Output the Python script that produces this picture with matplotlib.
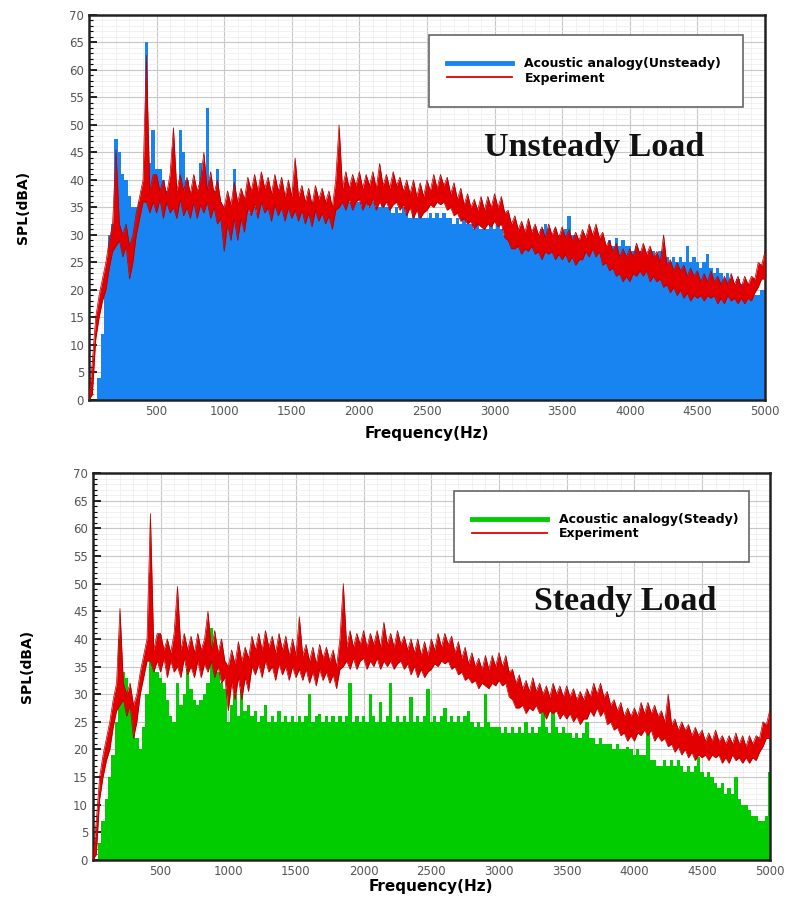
import numpy as np
import matplotlib
matplotlib.use("Agg")
import matplotlib.pyplot as plt
from matplotlib.lines import Line2D
from matplotlib.patches import Rectangle
from matplotlib.ticker import MultipleLocator

# =========================
# DATOS (paso 25 Hz)
# =========================

frecuencia = np.arange(0, 5001, 25)

# experimento: borde superior e inferior de la banda roja (igual en ambos paneles)
experimento_alto = [
    0, 7, 15, 19, 22, 25, 29, 32, 45.5, 32, 30, 32, 28, 30, 34, 37, 40, 62.7, 38, 41,
    41, 38, 40, 37.5, 41, 49.5, 38, 41, 38, 40.5, 37.5, 41, 38, 40, 45, 38, 41.5, 37.5, 40, 36,
    35, 38, 35.5, 39.5, 36, 38.5, 36.5, 40.5, 38, 41, 38, 41.5, 38.5, 40.5, 37.5, 41, 38, 40.5, 37, 40,
    37, 44, 37, 39, 36, 38.5, 35.5, 39, 36.5, 38.5, 36, 38, 35, 40, 50, 38.5, 41.5, 38.5, 41, 39,
    41.5, 38.5, 41, 39, 41.5, 38.5, 43, 39, 41, 38.5, 41.5, 39, 40.5, 38, 40, 37.5, 40, 37, 39.5, 37,
    40, 38, 41, 38.5, 41, 39, 40.5, 37.5, 39.5, 36.5, 38.5, 35.5, 37.5, 35, 36.5, 34.5, 37, 34.5, 37, 35,
    37.5, 35, 37, 34, 34.5, 32, 33.5, 31, 32.5, 30.5, 33, 30.5, 32, 30, 31.5, 29.5, 32, 30, 31.5, 29.5,
    31.5, 29.5, 31, 29, 30.5, 29, 31, 29.5, 32, 30, 32, 29.5, 30.5, 28, 29, 27, 28.5, 26, 27.5, 26,
    27.5, 26, 28.5, 26.5, 28.5, 26.5, 28, 26, 27, 25, 30, 24.5, 25.5, 23.5, 25, 23.5, 24.5, 22.5, 24, 22.5,
    23.5, 21.5, 23, 21.5, 23.5, 21.5, 22.5, 21, 22.5, 21, 23, 21, 22.5, 20.5, 22.5, 21, 22.5, 22, 25, 24.5,
    27,
]
experimento_bajo = [
    0, 1, 11, 15, 18, 20, 24, 27, 28, 29, 26, 28, 22, 25, 30, 33, 36, 36, 34, 36,
    34, 36.5, 33, 36, 34, 35, 33, 36.5, 33.5, 35, 33, 36, 33, 35.5, 34, 36, 33, 35, 32, 33,
    27, 32, 29, 33, 29, 33, 30.5, 35, 33.5, 35.5, 33, 36, 34, 35, 32.5, 35.5, 33.5, 35, 32.5, 35,
    33, 34.5, 32.5, 34.5, 32, 34, 31.5, 34.5, 32.5, 34, 32, 33.5, 31, 34.5, 35, 36, 34.5, 36.5, 34.5, 36,
    36.5, 34.5, 36, 35, 36.5, 34.5, 36, 35, 36, 34.5, 35.5, 36, 34.5, 35.5, 33.5, 35, 33, 34.5, 33, 34,
    34.5, 35.5, 35, 36, 35.5, 36, 34.5, 35, 33.5, 34, 32.5, 33, 32, 32.5, 31, 32, 31.5, 31, 32, 31.5,
    32.5, 31.5, 32, 29.5, 29, 27.5, 27.5, 28, 26.5, 27.5, 27, 28, 26.5, 27, 25.5, 27, 26.5, 27, 25.5, 26.5,
    25.5, 26.5, 25, 26, 24.5, 25.5, 25.5, 27, 26, 27.5, 26, 27, 24.5, 25, 23.5, 24, 22.5, 23, 21.5, 22.5,
    21.5, 23, 22.5, 23.5, 22.5, 23.5, 21.5, 22.5, 21.5, 22, 20.5, 21, 19.5, 20.5, 19, 20, 18.5, 19.5, 18, 19,
    18.5, 19, 18, 19, 18.5, 19, 17.5, 18.5, 17.5, 19, 18, 18.5, 17.5, 18.5, 17.5, 18.5, 18, 19.5, 20.5, 22,
    22,
]

# analogia acustica con carga no estacionaria
no_estacionaria = [
    0, 0, 0, 4, 12, 22, 30, 32, 47.5, 45, 41, 40, 37, 35, 35, 36, 38, 65, 43, 49,
    42, 42, 40, 38, 37, 46, 38, 49, 45, 40, 37, 38, 36, 43, 38, 53, 40, 38, 42, 36,
    32, 33, 31, 42, 33, 34, 33, 35, 34, 35, 34, 36, 35, 36, 35, 36, 36, 35, 36, 35,
    36, 35, 36, 35, 36, 35, 36, 35, 36, 35, 36, 35, 35, 36, 37, 36, 37, 36, 37, 36,
    36, 35, 36, 35, 36, 35, 35, 36, 35, 35, 34, 35, 34, 35, 34, 33, 34, 33, 34, 33,
    33, 34, 33, 34, 33, 34, 33, 33, 32, 33, 32, 33, 32, 32, 31, 32, 31, 32, 31, 32,
    31, 32, 31, 30, 31, 30, 31, 30, 31, 30, 31, 30, 31, 30, 31, 32, 31, 30, 31, 30,
    30, 31, 33.5, 30, 30, 29, 30, 29, 30, 29, 29, 28, 29, 28, 29, 28, 29.5, 28, 29, 28,
    28, 27, 28, 27, 27, 26, 27, 27, 26, 27, 26, 26, 25, 26, 25, 26, 25, 28, 25, 26,
    25, 24, 25, 26.5, 24, 23, 24, 23, 22, 23, 22, 21, 22, 21, 20, 21, 20, 19, 19, 20,
    20,
]

# analogia acustica con carga estacionaria
estacionaria = [
    0, 0, 3, 7, 11, 15, 19, 25, 40, 34, 33, 30, 25, 22, 20, 24, 30, 52, 36, 34,
    33, 32, 29, 26, 25, 32, 28, 30, 34.5, 31, 29, 28, 29, 30, 32, 42, 36, 34, 32, 31,
    25, 28, 30, 26, 31, 27, 28, 26, 27, 25, 26, 28, 25, 26, 25, 27, 25, 26, 25, 26,
    25, 26, 25, 26, 30, 25, 26, 26.5, 25, 26, 25, 26, 25, 26, 25, 26, 32, 25, 26, 25,
    26, 25, 30, 26, 25, 28.5, 25, 26, 32, 25, 26, 25, 26, 25, 29.5, 25, 26, 25, 26, 31,
    25, 26, 25, 26, 27.5, 25, 26, 25, 26, 25, 26, 27, 25, 24, 25, 24, 30, 25, 24, 24,
    24, 23, 24, 23, 24, 23, 24, 23, 25, 23, 24, 23, 24, 27.5, 24, 23, 27.5, 24, 23, 24,
    23, 23, 22, 23, 22, 23, 25, 22, 22, 21, 22, 21, 21, 21, 20, 21, 20, 20, 20.5, 20,
    19, 20, 19, 19, 22.8, 18, 18, 17, 17, 18, 17, 18, 17, 18, 17, 16, 17, 16, 17, 18.7,
    16, 15, 16, 15, 14, 13, 14, 12, 13, 12, 15, 11, 10, 10, 9, 8, 8, 7, 7, 8,
    16,
]

ticks_x = [500, 1000, 1500, 2000, 2500, 3000, 3500, 4000, 4500, 5000]
ticks_y = list(range(0, 71, 5))

AZUL = "#1784f2"
VERDE = "#00cc00"
ROJO = "#e30000"
ROJO_OSCURO = "#b00000"

# =========================
# GRAFICA
# =========================

def preparar_ejes(ax, pad_x):
    ax.set_xlim(0, 5000)
    ax.set_ylim(0, 70)
    ax.set_xticks(ticks_x)
    ax.set_yticks(ticks_y)
    ax.xaxis.set_minor_locator(MultipleLocator(100))
    ax.yaxis.set_minor_locator(MultipleLocator(1))
    ax.grid(which="major", color="#c8c8c8", linewidth=0.8)
    ax.grid(which="minor", color="#ececec", linewidth=0.5)
    ax.set_axisbelow(True)
    ax.tick_params(which="major", direction="in", length=6, width=1.2,
                   labelsize=8.5, labelcolor="#555555")
    ax.tick_params(which="minor", direction="in", length=3, width=0.8)
    for lado in ax.spines.values():
        lado.set_linewidth(1.8)
        lado.set_color("#222222")
    ax.set_xlabel("Frequency(Hz)", fontsize=11, fontweight="bold", labelpad=pad_x)
    ax.set_ylabel("SPL(dBA)", fontsize=10, fontweight="bold", labelpad=28)


def panel(ax, valores, color, etiqueta, titulo, caja, pos_titulo, largo, pad_x):
    preparar_ejes(ax, pad_x)
    ax.fill_between(frecuencia, 0, valores, step="mid", color=color,
                    linewidth=0, zorder=2)

    # banda del experimento
    ax.fill_between(frecuencia, experimento_bajo, experimento_alto,
                    color=ROJO, linewidth=0, zorder=3)
    ax.plot(frecuencia, experimento_alto, color=ROJO_OSCURO, linewidth=0.5, zorder=3)
    ax.plot(frecuencia, experimento_bajo, color=ROJO_OSCURO, linewidth=0.5, zorder=3)

    x0, y0, w, h = caja
    ax.add_patch(Rectangle((x0, y0), w, h, transform=ax.transAxes,
                           facecolor="white", edgecolor="#666666",
                           linewidth=1.2, zorder=5))
    manejadores = [Line2D([], [], color=color, linewidth=3.5),
                   Line2D([], [], color=ROJO, linewidth=1.3)]
    leyenda = ax.legend(manejadores, [etiqueta, "Experiment"],
                        loc="center left",
                        bbox_to_anchor=(x0 + 0.01, y0 + h / 2),
                        frameon=False, handlelength=largo,
                        handletextpad=1.0, labelspacing=0.1,
                        prop={"weight": "bold", "size": 9})
    leyenda.set_zorder(6)

    ax.text(pos_titulo[0], pos_titulo[1], titulo, transform=ax.transAxes,
            ha="center", va="center", fontsize=24.5, fontweight="bold",
            family="Liberation Serif", color="#111111", zorder=4)


def ejecutar():
    fig = plt.figure(figsize=(7.87, 9.06), dpi=100)
    ax1 = fig.add_axes([0.113, 0.5585, 0.859, 0.425])
    ax2 = fig.add_axes([0.118, 0.0508, 0.860, 0.427])

    panel(ax1, no_estacionaria, AZUL, "Acoustic analogy(Unsteady)",
          "Unsteady Load", (0.503, 0.761, 0.464, 0.187), (0.748, 0.657), 5.2, 6)
    panel(ax2, estacionaria, VERDE, "Acoustic analogy(Steady)",
          "Steady Load", (0.533, 0.770, 0.437, 0.183), (0.787, 0.667), 6.0, 1)

    fig.savefig("out.png", dpi=100)
    plt.close(fig)


if __name__ == "__main__":
    ejecutar()
